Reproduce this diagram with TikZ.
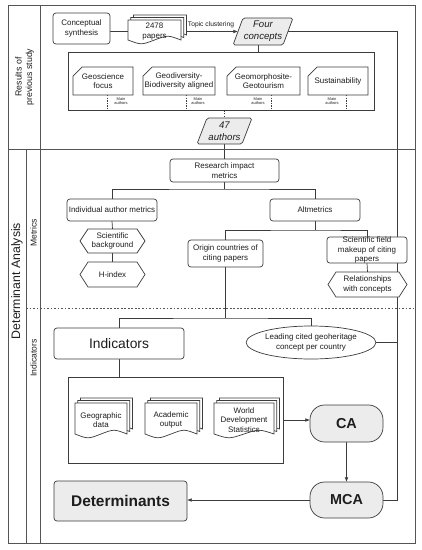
\documentclass[tikz,border=0pt]{standalone}
\usepackage{fontspec}
\setmainfont{Liberation Sans}
\usetikzlibrary{arrows.meta,shapes.geometric,backgrounds,calc}
\definecolor{linec}{HTML}{3C3C3C}
\definecolor{framec}{HTML}{555555}
\definecolor{fillg}{HTML}{ECECEC}
\definecolor{textc}{HTML}{1E1E1E}
\newcommand\pxu{0.03cm}
\newcommand\fmain{\fontsize{6.8}{8}\selectfont}
\tikzset{
  ln/.style={draw=linec, line width=0.6pt},
  dln/.style={draw=linec, line width=0.5pt, dash pattern=on 1.2pt off 1pt},
  arr/.style={ln, -{Latex[length=4pt,width=3.2pt]}},
  frame/.style={draw=framec, line width=0.6pt},
  sz/.style 2 args={minimum width=(#1)*\pxu, minimum height=(#2)*\pxu},
  plain/.style={align=center, inner sep=0pt, outer sep=0pt, text=textc, font=\fmain},
  box/.style={plain, draw=linec, line width=0.6pt, fill=white, rounded corners=2.5pt},
  proc/.style={plain, draw=linec, line width=0.6pt, fill=fillg, rounded corners=12.5pt, font=\fontsize{12.3}{14}\selectfont\bfseries},
  side/.style={rotate=90, align=center, inner sep=0pt, text=textc},
  tinyt/.style={align=center, inner sep=0pt, text=textc, font=\fontsize{3.4}{3.9}\selectfont}
}
% hexagon: name, cx, cy, w, h, text
\newcommand\hexa[6]{%
  \draw[ln, fill=white] ({(#2)-(#4)/2},{#3}) -- ({(#2)-(#4)/2+8},{(#3)-(#5)/2}) -- ({(#2)+(#4)/2-8},{(#3)-(#5)/2})
    -- ({(#2)+(#4)/2},{#3}) -- ({(#2)+(#4)/2-8},{(#3)+(#5)/2}) -- ({(#2)-(#4)/2+8},{(#3)+(#5)/2}) -- cycle;
  \node[plain, sz={#4}{#5}] (#1) at ({#2},{#3}) {#6};}
% card: name, x0, y0, x1, y1, text
\newcommand\card[6]{%
  \draw[ln, fill=white] ({#2},{(#3)+9}) -- ({(#2)+9},{#3}) -- ({#4},{#3}) -- ({#4},{#5}) -- ({#2},{#5}) -- cycle;
  \node[plain, sz={(#4)-(#2)}{(#5)-(#3)}] (#1) at ({((#2)+(#4))/2},{((#3)+(#5))/2}) {#6};}
% parallelogram: name, x0, y0, x1, y1, slant, text
\newcommand\para[7]{%
  \draw[ln, fill=fillg, rounded corners=1.5pt] ({(#2)+(#6)},{#3}) -- ({#4},{#3}) -- ({(#4)-(#6)},{#5}) -- ({#2},{#5}) -- cycle;
  \node[plain, sz={(#4)-(#2)-(#6)}{(#5)-(#3)}, font=\fontsize{8.2}{10}\selectfont\itshape] (#1) at ({((#2)+(#4))/2},{((#3)+(#5))/2}) {#7};}
% document: x0, y0, x1, y1
\newcommand\docsh[4]{%
  \draw[ln, fill=white] ({#1},{(#4)-4}) -- ({#1},{#2}) -- ({#3},{#2}) -- ({#3},{(#4)-4})
    .. controls ({(#1)+0.75*((#3)-(#1))},{(#4)-9}) .. ({((#1)+(#3))/2},{(#4)-4})
    .. controls ({(#1)+0.25*((#3)-(#1))},{(#4)+1}) .. ({#1},{(#4)-4}) -- cycle;}
% multi document: name, x0, y0, x1, y1, text
\newcommand\multidoc[6]{%
  \docsh{(#2)+5.5}{(#3)-5}{(#4)+5.5}{(#5)-5}
  \docsh{(#2)+2.75}{(#3)-2.5}{(#4)+2.75}{(#5)-2.5}
  \docsh{#2}{#3}{#4}{#5}
  \node[plain, sz={(#4)-(#2)}{(#5)-(#3)-4}] (#1) at ({((#2)+(#4))/2},{((#3)+(#5))/2-0.5}) {#6};}

\begin{document}
\begin{tikzpicture}[x=0.03cm, y=-0.03cm]
\useasboundingbox (0,0) rectangle (422,550);

% frame
\draw[frame] (8,5) rectangle (415,543);
\draw[frame] (40.7,5) -- (40.7,543);
\draw[frame] (8,149) -- (415,149);
\draw[frame] (26,149) -- (26,543);
\draw[frame, line width=0.5pt, dash pattern=on 1.5pt off 1.5pt] (26,308) -- (415,308);

% side labels
\node[side, font=\fontsize{7.5}{9}\selectfont] (lres) at (24.5,77) {Results of\\previous study};
\node[side, font=\fontsize{10.5}{12}\selectfont] (ldet) at (17,281) {Determinant Analysis};
\node[side, font=\fontsize{7.3}{9}\selectfont] (lmet) at (33.5,233) {Metrics};
\node[side, font=\fontsize{7.3}{9}\selectfont] (lind) at (33.5,358) {Indicators};

% results of previous study
\node[box, sz={57}{31}] (cs) at (81.5,28.5) {Conceptual\\synthesis};
\multidoc{pp}{128}{20}{181}{44}{2478\\papers}
\para{fc}{233}{18}{293}{45}{10}{Four\\concepts}
\node[plain, font=\fontsize{5.7}{7}\selectfont] (tc) at (211,25) {Topic clustering};

\node[ln, sz={306}{58}, inner sep=0pt] (c1) at (221,81) {};
\card{gs}{73}{67}{133}{95}{Geoscience\\focus}
\card{gb}{143}{67}{215}{95}{Geodiversity-\\Biodiversity aligned}
\card{gg}{227}{67}{300}{95}{Geomorphosite-\\Geotourism}
\card{su}{308}{67}{368}{95}{Sustainability}
\node[tinyt] (ma1) at (121,101) {Main\\authors};
\node[tinyt] (ma2) at (198,101) {Main\\authors};
\node[tinyt] (ma3) at (258,101) {Main\\authors};
\node[tinyt] (ma4) at (332,101) {Main\\authors};

\para{au}{197}{118}{252}{144}{10}{47\\authors}

% metrics
\node[box, sz={109}{23}] (rim) at (224.5,170.5) {Research impact\\metrics};
\node[box, sz={90}{22}] (iam) at (112,210) {Individual author metrics};
\node[box, sz={90}{22}] (alt) at (315,210) {Altmetrics};
\hexa{sb}{112.5}{241}{65}{24}{Scientific\\background}
\hexa{hi}{112.5}{274.5}{65}{25}{H-index}
\node[box, sz={75}{27}] (oc) at (225.5,253.5) {Origin countries of\\citing papers};
\node[box, sz={80}{26}] (sf) at (367,250) {Scientific field\\makeup of citing\\papers};
\hexa{rc}{367.5}{284.5}{79}{25}{Relationships\\with concepts}

% indicators
\node[box, sz={130}{31}, font=\fontsize{11.8}{13}\selectfont] (ind) at (119,343.5) {Indicators};
\node[plain, ellipse, draw=linec, line width=0.6pt, fill=white, sz={107}{33}] (lc) at (311,342.5) {Leading cited geoheritage\\concept per country};
\node[ln, sz={215}{86}, inner sep=0pt] (c2) at (175.5,420) {};
\multidoc{gd}{75}{403}{127}{438}{Geographic\\data}
\multidoc{ao}{145}{403}{197}{438}{Academic\\output}
\multidoc{wd}{214}{403}{274}{438}{World\\Development\\Statistics}
\node[proc, sz={73}{37}] (ca) at (346.5,423.5) {CA};
\node[proc, sz={73}{36}] (mca) at (346.5,500) {MCA};
\node[box, fill=fillg, sz={133}{40}, font=\fontsize{13.2}{15}\selectfont\bfseries] (det) at (120.5,501) {Determinants};

\coordinate (rx) at (397,0);
\coordinate (t1) at (224.5,189);
\coordinate (t2) at (315,230);
\coordinate (t3) at (225.5,318);

\begin{pgfonlayer}{background}
\fill[white] (0,0) rectangle (422,550);
\draw[ln] (pp.west -| cs.east) -- (pp.west);
\draw[arr] (pp.east) -- (pp.east -| fc.west);
\draw[ln] ([xshift=-5*\pxu]fc.south) -- ([xshift=-5*\pxu]fc.south |- c1.north);
\draw[dln] ([xshift=4*\pxu]gs.south) coordinate (d1) -- (d1 |- c1.south);
\draw[dln] ([xshift=7*\pxu]gb.south) coordinate (d2) -- (d2 |- c1.south);
\draw[dln] ([xshift=7.5*\pxu]gg.south) coordinate (d3) -- (d3 |- c1.south);
\draw[dln] ([xshift=8*\pxu]su.south) coordinate (d4) -- (d4 |- c1.south);
\draw[dln] (au.north |- c1.south) -- (au.north);
\draw[ln] (au.south) -- (rim.north);
\draw[ln] (rim.south) -- (t1);
\draw[ln] (iam.north) |- (t1) -| (alt.north);
\draw[ln] (iam.south) -- (sb.north);
\draw[ln] (sb.south) -- (hi.north);
\draw[ln] (alt.south) -- (t2);
\draw[ln] (oc.north) |- (t2) -| (sf.north);
\draw[ln] (sf.south) -- (rc.north);
\draw[ln] (oc.south) -- (t3);
\draw[ln] (ind.north) |- (t3) -| (lc.north);
\draw[ln] (ind.south) -- (ind.south |- c2.north);
\draw[arr] (c2.east) -- (c2.east -| ca.west);
\draw[arr] (ca.south) -- (mca.north);
\draw[arr] (mca.west) -- (mca.west -| det.east);
\draw[ln] (mca.east) -- (mca.east -| rx) |- (fc.east);
\draw[ln] (lc.east) -- (lc.east -| rx);
\end{pgfonlayer}
\end{tikzpicture}
\end{document}
